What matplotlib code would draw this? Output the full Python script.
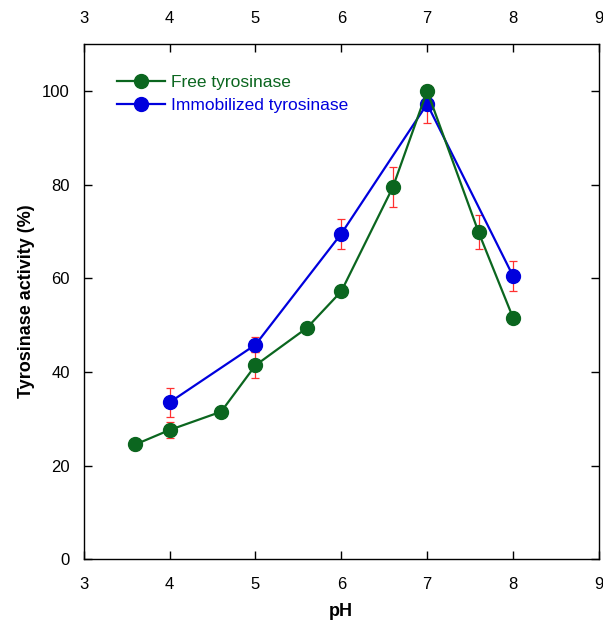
import matplotlib
matplotlib.use('Agg')
from matplotlib import pyplot as plt

plt.rcParams['font.family'] = ['Liberation Sans', 'DejaVu Sans']

# 数据
ph_free = [3.6, 4.0, 4.6, 5.0, 5.6, 6.0, 6.6, 7.0, 7.6, 8.0]
act_free = [24.5, 27.6, 31.5, 41.4, 49.4, 57.2, 79.4, 100.0, 69.8, 51.6]
err_free = [1.2, 1.8, 0.0, 2.8, 0.0, 0.0, 4.3, 1.0, 3.6, 1.0]

ph_imm = [4.0, 5.0, 6.0, 7.0, 8.0]
act_imm = [33.5, 45.8, 69.5, 97.2, 60.5]
err_imm = [3.1, 1.6, 3.2, 4.0, 3.2]

green = '#0b661f'
blue = '#0000dd'

fig = plt.figure(figsize=(6.03, 6.20), dpi=100)
ax = fig.add_axes([0.139, 0.098, 0.854, 0.831])

ax.errorbar(ph_free, act_free, yerr=err_free, fmt='none', ecolor='#ff3030',
            elinewidth=0.9, capsize=3, capthick=0.9, zorder=1)
ax.errorbar(ph_imm, act_imm, yerr=err_imm, fmt='none', ecolor='#ff3030',
            elinewidth=0.9, capsize=3, capthick=0.9, zorder=1)
ax.plot(ph_free, act_free, '-o', color=green, lw=1.6, ms=10, label='Free tyrosinase', zorder=3)
ax.plot(ph_imm, act_imm, '-o', color=blue, lw=1.6, ms=10, label='Immobilized tyrosinase', zorder=2)

ax.set_xlim(3, 9)
ax.set_ylim(0, 110)
ax.set_xticks(range(3, 10))
ax.set_yticks(range(0, 101, 20))
ax.tick_params(direction='in', top=True, right=True, labeltop=True,
               labelsize=12, length=6, width=1)
ax.tick_params(axis='x', pad=13)
ax.tick_params(axis='y', right=True, labelright=False, pad=10)
for s in ax.spines.values():
    s.set_linewidth(1)

ax.set_xlabel('pH', fontsize=13, fontweight='bold', labelpad=8)
ax.set_ylabel('Tyrosinase activity (%)', fontsize=13, fontweight='bold', labelpad=5)

leg = ax.legend(loc='upper left', frameon=False, fontsize=12.5, handlelength=2.8,
                bbox_to_anchor=(0.064, 0.94), borderaxespad=0, borderpad=0,
                labelspacing=0.45, handletextpad=0.3)
for t, c in zip(leg.get_texts(), [green, blue]):
    t.set_color(c)

fig.savefig('out.png')
